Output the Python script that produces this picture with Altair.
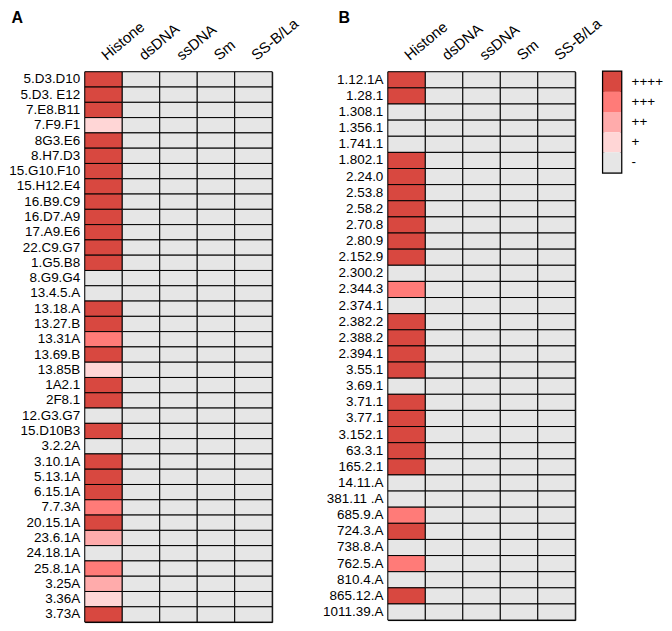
import altair as alt
import pandas as pd

antigens = ["Histone", "dsDNA", "ssDNA", "Sm", "SS-B/La"]
levels = ["-", "+", "++", "+++", "++++"]
colors = ["#E6E6E6", "#FFD6D6", "#FFABAB", "#FF7B78", "#D84840"]

clones_a = ["5.D3.D10", "5.D3. E12", "7.E8.B11", "7.F9.F1", "8G3.E6", "8.H7.D3",
            "15.G10.F10", "15.H12.E4", "16.B9.C9", "16.D7.A9", "17.A9.E6", "22.C9.G7",
            "1.G5.B8", "8.G9.G4", "13.4.5.A", "13.18.A", "13.27.B", "13.31A",
            "13.69.B", "13.85B", "1A2.1", "2F8.1", "12.G3.G7", "15.D10B3",
            "3.2.2A", "3.10.1A", "5.13.1A", "6.15.1A", "7.7.3A", "20.15.1A",
            "23.6.1A", "24.18.1A", "25.8.1A", "3.25A", "3.36A", "3.73A"]
histone_a = [4, 4, 4, 1, 4, 4,
             4, 4, 4, 4, 4, 4,
             4, 0, 0, 4, 4, 3,
             4, 1, 4, 4, 0, 4,
             0, 4, 4, 4, 3, 4,
             2, 0, 3, 2, 1, 4]
dsdna_a = [0] * 36
ssdna_a = [0] * 36
sm_a = [0] * 36
ssb_a = [0] * 36

clones_b = ["1.12.1A", "1.28.1", "1.308.1", "1.356.1", "1.741.1", "1.802.1",
            "2.24.0", "2.53.8", "2.58.2", "2.70.8", "2.80.9", "2.152.9",
            "2.300.2", "2.344.3", "2.374.1", "2.382.2", "2.388.2", "2.394.1",
            "3.55.1", "3.69.1", "3.71.1", "3.77.1", "3.152.1", "63.3.1",
            "165.2.1", "14.11.A", "381.11 .A", "685.9.A", "724.3.A", "738.8.A",
            "762.5.A", "810.4.A", "865.12.A", "1011.39.A"]
histone_b = [4, 4, 0, 0, 0, 4,
             4, 4, 4, 4, 4, 4,
             0, 3, 0, 4, 4, 4,
             4, 0, 4, 4, 4, 4,
             4, 0, 0, 3, 4, 0,
             3, 0, 4, 0]
dsdna_b = [0] * 34
ssdna_b = [0] * 34
sm_b = [0] * 34
ssb_b = [0] * 34


def long_df(clones, cols):
    rows = []
    for i, c in enumerate(clones):
        for ag, vals in zip(antigens, cols):
            rows.append({"clone": c, "antigen": ag, "level": levels[vals[i]]})
    return pd.DataFrame(rows)


df_a = long_df(clones_a, [histone_a, dsdna_a, ssdna_a, sm_a, ssb_a])
df_b = long_df(clones_b, [histone_b, dsdna_b, ssdna_b, sm_b, ssb_b])

color_scale = alt.Scale(domain=levels, range=colors)
FONT = "Liberation Sans"


def panel(df, clones, w, h, title, title_x):
    return alt.Chart(df).mark_rect(stroke="black", strokeWidth=1).encode(
        x=alt.X("antigen:N", sort=antigens,
                axis=alt.Axis(orient="top", title=title, labelAngle=320,
                              labelAlign="left", labelBaseline="middle",
                              ticks=False, domain=False, labelPadding=15,
                              labelFontSize=15, labelFont=FONT, labelColor="black",
                              titleAnchor="start", titleAlign="left",
                              titleBaseline="alphabetic", titleX=title_x, titleY=-49,
                              titleFont=FONT, titleFontSize=16, titleFontWeight="bold",
                              titleColor="black")),
        y=alt.Y("clone:N", sort=clones,
                axis=alt.Axis(title=None, ticks=False, domain=False, labelPadding=5,
                              labelFontSize=13.5, labelFont=FONT, labelColor="black")),
        color=alt.Color("level:N", scale=color_scale, legend=None),
    ).properties(width=w, height=h)


pa = panel(df_a, clones_a, 188, 552, "A", -74)
pb = panel(df_b, clones_b, 188, 550, "B", -50)

leg_df = pd.DataFrame({"level": levels[::-1]})
leg = alt.Chart(leg_df).mark_rect().encode(
    y=alt.Y("level:N", sort=levels[::-1],
            axis=alt.Axis(orient="right", title=None, ticks=False, domain=False,
                          labelPadding=10, labelFontSize=13.5, labelFont=FONT,
                          labelColor="black")),
    color=alt.Color("level:N", scale=color_scale, legend=None),
).properties(width=18, height=101,
             view=alt.ViewBackground(stroke="black", strokeWidth=2.5))

chart = alt.hconcat(
    pa,
    alt.hconcat(pb, leg, spacing=28, bounds="flush"),
    spacing=116, bounds="flush",
).properties(padding=0).configure_view(stroke="black", strokeWidth=1)

chart.save("out.html", embed_options={"renderer": "svg", "actions": False})
